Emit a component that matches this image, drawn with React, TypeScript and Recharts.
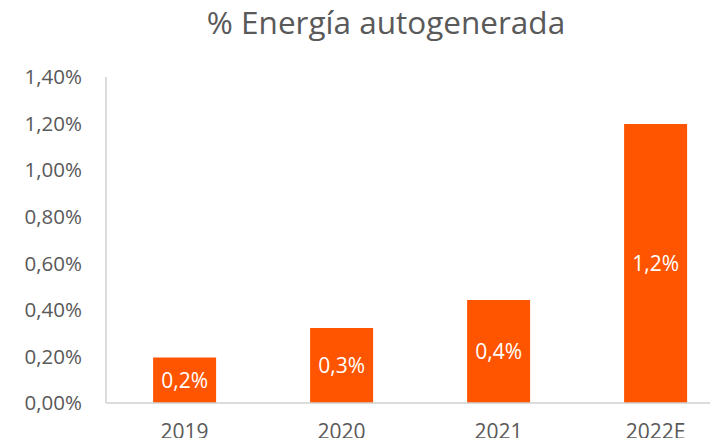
import { BarChart, Bar, XAxis, YAxis, LabelList } from "recharts";

const years = ["2019", "2020", "2021", "2022E"];
const shares = [0.195, 0.322, 0.442, 1.198];
const yTicks = [0, 0.2, 0.4, 0.6, 0.8, 1.0, 1.2, 1.4];

const data = years.map((year, i) => ({ year, share: shares[i] }));

const pct = (v: number, digits: number) => v.toFixed(digits).replace(".", ",") + "%";

const FONT = "'Open Sans', sans-serif";
const GREY_TEXT = "#595959";

export default function App() {
  return (
    <div style={{ position: "relative", margin: -8, width: 718, height: 446, overflow: "hidden", background: "#fff", fontFamily: FONT }}>
      {/* title drawn as svg text so its box sits where the glyphs are */}
      <svg width={718} height={50} style={{ position: "absolute", top: 0, left: 0, zIndex: 1 }}>
        <text x={386} y={34} textAnchor="middle" fontSize={31.5} fill={GREY_TEXT} fontFamily={FONT}>
          % Energía autogenerada
        </text>
      </svg>
      <BarChart width={740} height={446} data={data} margin={{ top: 77, right: 6, bottom: 0, left: 0 }} barCategoryGap="30%">
        <XAxis
          dataKey="year"
          height={43}
          tickSize={0}
          tickMargin={21}
          axisLine={{ stroke: "#d0d0d0", strokeWidth: 1.5 }}
          tickLine={false}
          tick={{ fontSize: 21, fill: GREY_TEXT, fontFamily: FONT }}
        />
        <YAxis
          width={106}
          domain={[0, 1.4]}
          ticks={yTicks}
          tickSize={0}
          tickMargin={24}
          axisLine={{ stroke: "#d0d0d0", strokeWidth: 1.5 }}
          tickLine={false}
          tickFormatter={(v: number) => pct(v, 2)}
          tick={{ fontSize: 20.5, fill: GREY_TEXT, fontFamily: FONT }}
        />
        <Bar dataKey="share" fill="#ff5500" isAnimationActive={false}>
          <LabelList
            dataKey="share"
            position="center"
            formatter={(v: any) => pct(Number(v), 1)}
            style={{ fill: "#ffffff", fontSize: 21, fontFamily: FONT }}
          />
        </Bar>
      </BarChart>
    </div>
  );
}
